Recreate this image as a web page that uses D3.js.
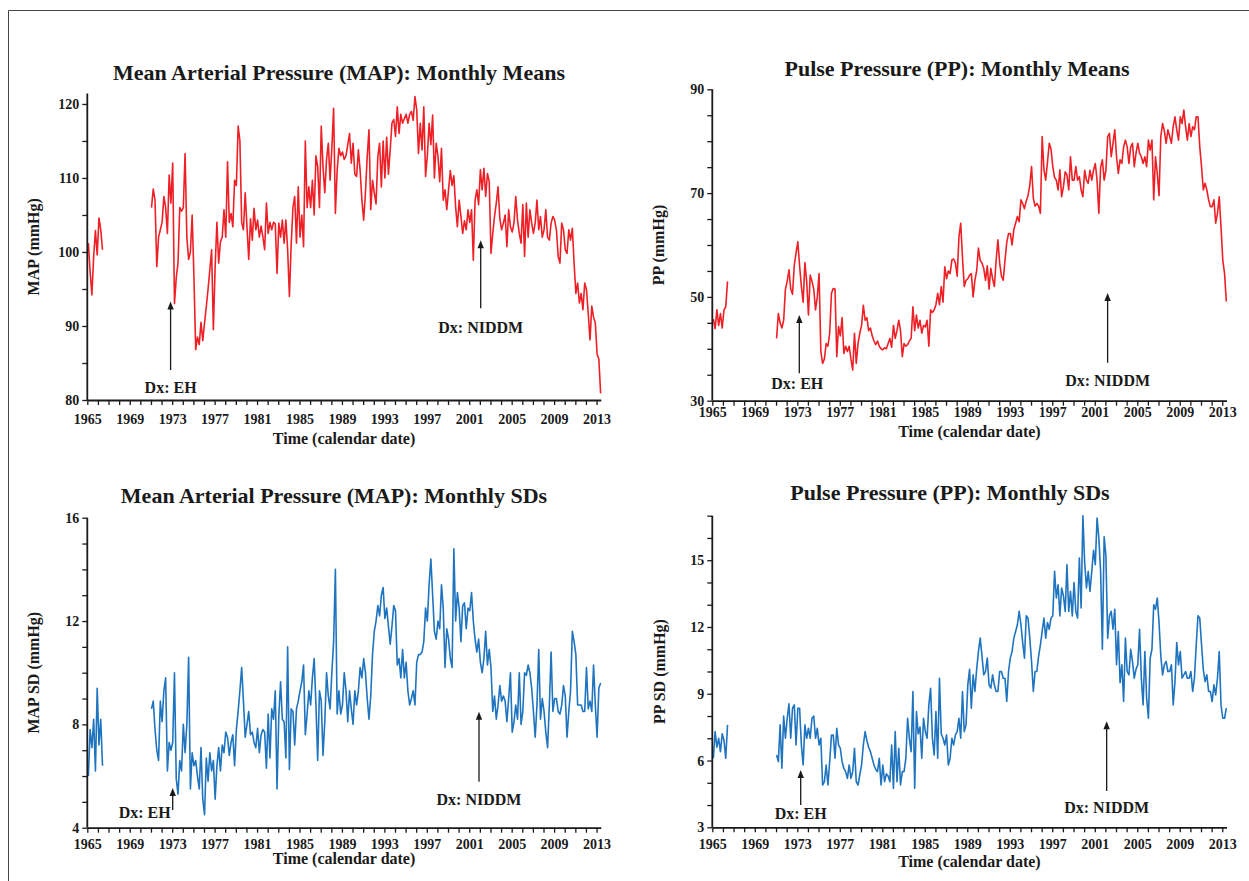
<!DOCTYPE html>
<html>
<head>
<meta charset="utf-8">
<script src="https://cdn.jsdelivr.net/npm/d3@7"></script>
<style>
  body { margin: 0; background: #fff; }
  svg text { font-family: "Liberation Serif", "Times New Roman", serif; font-weight: bold; fill: #1a1a1a; }
</style>
</head>
<body>
<svg id="chart" width="1249" height="881"></svg>
<script>
// ---- Time axis: years shown on every panel ----
const yearTicks = d3.range(1965, 2014, 1);
const yearLabels = [1965, 1969, 1973, 1977, 1981, 1985, 1989, 1993, 1997, 2001, 2005, 2009, 2013];

// Bimonthly series: early block starts 1965.1, main block starts 1971.05
const earlyStart = 1965.1;
const lateStart = 1971.05;
const step = 1 / 6;

// ---- MAP monthly means (mmHg) ----
const mapMeanEarly = [101.2, 97.3, 94.2, 99.4, 102.9, 99.6, 104.6, 103, 100.3];
const mapMeanLate = [
  106, 108.5, 107, 98, 102, 103,
  104, 107.5, 106, 102.5, 110.4, 106.6,
  112, 93, 96.5, 98.5, 106, 105.5,
  106, 113.3, 102, 99, 100, 105,
  96.7, 86.8, 88.5, 87.5, 90.5, 88,
  90.4, 92.6, 95, 97.6, 100.3, 89.5,
  98, 104, 98.5, 101.4, 102, 105.7,
  102, 112.2, 104, 105.2, 103.4, 109.7,
  109, 117, 115, 104, 103, 108,
  103.4, 99, 104.5, 101.6, 105.9, 103,
  104.3, 102, 103.5, 102, 100.3, 106.6,
  102.5, 104, 103, 104, 103.8, 97.1,
  103.9, 102, 104.3, 101.2, 104.3, 100.3,
  94, 101, 106, 107.5, 101.2, 108.8,
  102, 105, 100.7, 115, 106, 108.8,
  106, 109.7, 105, 113, 111.5, 106,
  117, 111.5, 108, 112.5, 114.7, 109.7,
  114, 119.4, 105.2, 111, 114, 113,
  113.5, 112.5, 113, 114.5, 116, 112,
  114.7, 110.5, 110.2, 113.8, 111, 107,
  104.3, 108, 112.9, 116.5, 105.7, 109.7,
  108, 106.5, 112.9, 114.7, 108.8, 115,
  110, 115.5, 110.5, 113.8, 117.4, 117.9,
  115.6, 119.6, 116, 118.6, 117.4, 118,
  118.6, 117.4, 118.6, 119, 117.8, 121,
  119.2, 113.3, 117.4, 113.8, 119.6, 110.2,
  113,
  117.4, 114.5, 118.5, 110, 114.7, 113,
  109.5, 114, 107, 108.4, 105.7, 108.4,
  111, 109, 110.3, 106.1, 103.4, 107,
  104.8, 102.5, 104.2, 103, 105.7, 104,
  105.7, 98.9, 107, 108.4, 106.4, 111.1,
  108.4, 111.3, 107.5, 110.6, 109.5, 99.8,
  102.5, 104.8, 106.6, 108.8, 104.5, 103,
  103.9, 105, 100.7, 105.7, 103.4, 102.7,
  103.9, 107.5, 104.3, 102.5, 101.2, 106.4,
  99.4, 106.6, 102, 105.7, 103.9, 102.5,
  103.9, 107, 103, 104.8, 102, 103,
  105.7, 102, 101.6, 103.9, 104.8, 104.3,
  103, 99.4, 98.5, 103.9, 103, 100.3,
  99.8, 103, 101.6, 103.2, 98.5, 94.4,
  95.8, 93.1, 94.4, 92.2, 95.8, 94.9,
  91.7, 88.1, 92.7, 91.2, 90.4, 86.2,
  85.5, 80.9
];

// ---- PP monthly means (mmHg) ----
const ppMeanEarly = [45.7, 43.9, 47.5, 44.5, 46.8, 44, 47.5, 48.1, 53];
const ppMeanLate = [
  42, 46.8, 45, 44, 45.5, 51.5,
  53, 55.2, 51.5, 50.5, 56.1, 58.5,
  60.6, 56, 52, 49, 56.6, 53,
  46.5, 54.2, 53, 51.5, 47.5, 50,
  54.5, 39.5, 37.2, 38, 41, 40.5,
  43, 50.7, 51.6, 51.5, 38.5, 44.3,
  42.5, 46, 39.1, 40.5, 39.5, 40.5,
  38, 35.9, 43, 37.2, 41, 43,
  44.5, 48.4, 45.5, 46, 43.5, 44,
  42.5, 41.5, 40.8, 41.5, 40.5, 40,
  39.8, 40.2, 40, 41, 42, 40.3,
  44.5, 42, 43.5, 45.5, 43.5, 38.5,
  41, 40.5, 40.8, 41.5, 42, 48.1,
  43.5, 46.5, 44, 45.5, 43, 44.5,
  44.2, 45.5, 40.5, 47.5, 47, 47.5,
  48.5, 50.7, 48.5, 52, 49, 55.8,
  53.5, 55, 54.5, 57.1, 57.3, 56.5,
  54, 61.6, 64.2, 57.5, 52, 53.2,
  53.5, 54.2, 54.5, 50, 53.2, 55,
  59.4, 57, 56.5, 55.5, 53.2, 56,
  51.5, 55.5, 53.5, 52, 57, 61,
  56.5, 54, 53.2, 57, 60.5, 62.2,
  62.2, 60, 63, 64.2, 65.5, 64.5,
  68.7, 68, 67, 68.5, 69.5, 71.5,
  75.1, 69, 67.5, 68, 67.5, 66.1,
  80.9, 74.5, 72.5, 76, 79.6, 78.5,
  75.1, 73, 72.5, 70.6, 74.5, 69.3,
  71.2, 74.1, 73.5, 70.6, 77, 72.5,
  72.5, 75.1, 72.5, 73.2, 70.6, 69.3,
  74.4, 72.5, 71.9, 74.4, 72.5, 74.4,
  75.7, 72.5, 66.1, 75, 76.4, 72.5,
  74.4, 80.9, 81.5, 77, 79.6, 82.2,
  77, 73.8, 76.4, 75.7, 78.9, 80.2,
  78.9, 75.7, 78.9, 79.6, 75.1, 77.7,
  79.6, 77.7, 77, 75.7, 77, 75.1,
  80.2, 78.3, 80.2, 68.7, 77, 73.8,
  69.5, 80.9, 83.4, 82, 79.6, 82.2,
  80.9, 79.6, 82.8, 84.7, 82.2, 80.2,
  84.7, 83.4, 86, 82.8, 80.2, 83.4,
  80.9, 82.8, 82.2, 84.7, 84.7, 78.9,
  75.1, 70.6, 71.9, 70.6, 68.7, 67.4,
  67.4, 68.7, 64.2, 66.1, 69.3, 63.5,
  57.1, 54.5, 49.1
];

// ---- MAP monthly SDs (mmHg) ----
const mapSdEarly = [6.0, 7.8, 7.1, 8.2, 6.2, 9.4, 7.2, 8.2, 6.4];
const mapSdLate = [
  8.6, 8.9, 7.8, 7.0, 6.6, 8.9,
  8.1, 9.3, 9.8, 6.2, 7.3, 7.0,
  7.3, 10.0, 5.9, 5.3, 6.6, 6.2,
  8.0, 6.9, 8.0, 10.6, 5.5, 6.9,
  6.4, 6.6, 6.0, 5.5, 7.1, 5.1,
  4.5, 6.7, 5.8, 6.9, 6.2, 6.6,
  5.1, 6.4, 7.1, 6.2, 7.2, 6.9,
  7.7, 7.5, 6.8, 7.3, 7.6, 6.4,
  7.8, 8.5, 9.3, 10.2, 8.9, 7.5,
  8.0, 8.5, 7.6, 7.7, 7.3, 7.1,
  7.85, 6.9, 7.6, 7.8, 7.7, 6.3,
  8.4, 6.7, 8.6, 8.2, 9.3, 5.5,
  8.3, 9.65, 8.2, 8.1, 6.7, 11.0,
  6.25, 8.6, 8.5, 7.2, 8.6, 8.9,
  9.3, 9.65, 10.3, 7.6, 8.4, 9.3,
  8.75, 9.8, 10.55, 8.75, 6.6, 9.3,
  8.9, 6.8, 8.1, 10.0, 9.1, 8.6,
  10.0, 11.2, 14.0, 8.4, 9.3, 8.4,
  8.75, 10.0, 9.3, 8.1, 9.3, 8.6,
  8.0, 9.3, 8.75, 9.3, 10.2, 9.8,
  10.55, 10.0, 9.0, 8.2, 9.1, 10.7,
  11.6, 12.0, 12.6, 12.2, 13.0, 13.3,
  12.1, 12.5, 11.8, 11.1, 11.8, 12.6,
  12.4, 10.3, 10.55, 9.8, 10.9, 9.8,
  10.4, 9.3, 8.75, 9.0, 9.3, 8.75,
  10.4, 10.7, 10.7, 10.8, 11.2, 12.5,
  12.0, 13.4, 14.4, 13.0, 11.6, 11.3,
  12.0, 11.7, 13.4, 12.5, 10.2, 11.7,
  11.3, 10.55, 10.2, 14.8, 12.0, 13.1,
  12.5, 11.2, 12.6, 12.7, 11.7, 12.5,
  12.4, 13.1, 12.0, 11.3, 10.8, 11.3,
  10.4, 10.0, 10.55, 11.6, 10.3, 10.9,
  10.2, 8.5, 9.1, 8.2, 8.75, 9.5,
  8.9, 9.1, 8.9, 8.1, 9.0, 10.0,
  7.7, 8.1, 8.75, 8.2, 10.0, 8.0,
  8.5, 10.0, 9.9, 10.3, 10.0, 9.4,
  8.5, 7.5, 8.75, 10.9, 8.2, 9.0,
  8.5, 7.7, 7.1, 8.75, 10.8, 8.5,
  9.0, 9.0, 8.5, 8.4, 8.75, 9.5,
  9.1, 7.5, 8.5, 9.3, 11.6, 11.2,
  10.7, 8.75, 8.75, 8.75, 8.5, 8.5,
  10.2, 8.6, 8.9, 8.5, 10.3, 8.75,
  7.5, 9.4, 9.6
];

// ---- PP monthly SDs (mmHg) ----
const ppSdEarly = [6.1, 7.3, 6.6, 7.0, 6.4, 7.2, 6.9, 6.1, 7.6];
const ppSdLate = [
  6.25, 5.95, 7.6, 5.65, 8.0, 7.0,
  7.9, 8.55, 7.0, 8.35, 8.5, 6.7,
  8.35, 8.35, 6.7, 5.8, 7.6, 7.0,
  7.45, 7.0, 7.9, 8.0, 7.0, 7.45,
  6.7, 7.0, 4.9, 5.05, 5.8, 4.9,
  5.95, 7.15, 7.15, 6.1, 7.45, 6.7,
  6.55, 5.95, 5.65, 5.5, 5.2, 5.8,
  5.2, 5.5, 6.55, 5.05, 4.9, 5.35,
  5.8, 6.7, 7.3, 6.9, 6.6, 6.4,
  6.1, 5.8, 5.6, 5.5, 6.1, 4.9,
  5.8, 5.05, 5.4, 5.3, 5.05, 6.7,
  4.75, 7.3, 5.05, 6.55, 4.9, 5.5,
  5.5, 6.1, 7.9, 7.0, 6.4, 9.1,
  4.75, 8.2, 7.2, 7.5, 6.1, 7.9,
  7.3, 7.0, 8.5, 9.25, 7.0, 6.25,
  8.2, 6.1, 9.7, 7.2, 7.0, 6.7,
  7.15, 5.8, 6.1, 7.0, 6.7, 7.15,
  7.3, 7.9, 7.0, 9.1, 7.3, 7.6,
  9.4, 10.1, 8.35, 9.85, 9.1, 10.1,
  10.9, 11.5, 10.7, 9.85, 10.0, 10.6,
  9.4, 9.25, 9.85, 9.4, 9.1, 9.1,
  10.0, 10.0, 9.7, 9.7, 8.65, 10.0,
  10.6, 10.9, 11.5, 11.8, 12.1, 12.7,
  12.1, 11.3, 10.6, 12.5, 12.4, 11.5,
  10.45, 9.1, 10.0, 10.0, 10.7, 11.2,
  11.8, 12.4, 11.5, 12.2, 11.9, 12.4,
  12.5, 14.5, 13.3, 13.9, 12.5, 13.75,
  13.4, 12.7, 14.8, 12.7, 13.6, 12.5,
  14.0, 12.7, 12.4, 15.1, 12.85, 17.0,
  14.9, 13.75, 14.5, 13.6, 14.5, 15.45,
  14.8, 16.9, 16.0, 14.5, 11.0, 16.05,
  15.2, 11.5, 12.5, 12.7, 11.9, 12.8,
  10.3, 11.8, 9.5, 10.3, 8.65, 11.5,
  10.0, 9.85, 11.0, 10.45, 9.7, 10.1,
  10.3, 11.9, 9.7, 8.5, 10.9, 8.8,
  7.9, 10.6, 11.0, 13.0, 12.8, 13.3,
  12.2, 10.7, 9.85, 10.3, 10.45, 10.0,
  10.0, 10.3, 8.5, 9.55, 11.3, 10.3,
  10.9, 9.7, 9.85, 10.0, 9.7, 9.7,
  10.0, 9.1, 9.7, 11.2, 12.5, 12.4,
  11.2, 10.1, 9.55, 9.85, 9.1, 9.1,
  8.65, 9.4, 8.95, 9.7, 10.9, 8.5,
  7.9, 7.9, 8.35
];

// ---- Value-axis ticks and labels ----
const mapMeanTicks = d3.range(80, 121, 5);
const mapMeanLabels = [80, 90, 100, 110, 120];
const ppMeanTicks = d3.range(30, 91, 5);
const ppMeanLabels = [30, 50, 70, 90];
const mapSdTicks = d3.range(4, 17, 1);
const mapSdLabels = [4, 8, 12, 16];
const ppSdTicks = d3.range(3, 18, 1);
const ppSdLabels = [3, 6, 9, 12, 15];

// ---- Diagnosis markers ----
const diagnosisNames = ["Dx: EH", "Dx: NIDDM"];

const RED = "#ee2026";
const BLUE = "#1f74c0";
const INK = "#1a1a1a";

// Panel layout (pixel frames) and annotation placement in data units
const panels = [
  {
    title: "Mean Arterial Pressure (MAP): Monthly Means", titleX: 339, titleY: 80,
    yTitle: "MAP (mmHg)", yTitleX: 33,
    early: mapMeanEarly, late: mapMeanLate, color: RED,
    yDomain: [80, 121.4], ticks: mapMeanTicks, labels: mapMeanLabels,
    left: 87.3, right: 600.8, top: 93.6, bottom: 400,
    xLabelY: 424, xTitleY: 444,
    notes: [
      { name: 0, year: 1972.85, tip: 93.3, tail: 84.05, text: 80.95, anchor: "middle", dx: 0 },
      { name: 1, year: 2002.08, tip: 101.6, tail: 92.4, text: 89.1, anchor: "middle", dx: 0 }
    ]
  },
  {
    title: "Pulse Pressure (PP): Monthly Means", titleX: 957, titleY: 76,
    yTitle: "PP (mmHg)", yTitleX: 658,
    early: ppMeanEarly, late: ppMeanLate, color: RED,
    yDomain: [30, 90], ticks: ppMeanTicks, labels: ppMeanLabels,
    left: 712.3, right: 1226.5, top: 89.3, bottom: 400.7,
    xLabelY: 417, xTitleY: 437,
    notes: [
      { name: 0, year: 1973.19, tip: 46.5, tail: 35.3, text: 32.25, anchor: "middle", dx: -2 },
      { name: 1, year: 2002.21, tip: 50.75, tail: 37.3, text: 32.8, anchor: "middle", dx: 0 }
    ]
  },
  {
    title: "Mean Arterial Pressure (MAP): Monthly SDs", titleX: 334, titleY: 503,
    yTitle: "MAP SD (mmHg)", yTitleX: 33,
    early: mapSdEarly, late: mapSdLate, color: BLUE,
    yDomain: [4, 16], ticks: mapSdTicks, labels: mapSdLabels,
    left: 87.3, right: 600.8, top: 517.7, bottom: 827.7,
    xLabelY: 849, xTitleY: 864,
    notes: [
      { name: 0, year: 1973.05, tip: 5.54, tail: 4.69, text: 4.36, anchor: "end", dx: -2 },
      { name: 1, year: 2001.92, tip: 8.49, tail: 5.78, text: 4.88, anchor: "middle", dx: 0 }
    ]
  },
  {
    title: "Pulse Pressure (PP): Monthly SDs", titleX: 950, titleY: 500,
    yTitle: "PP SD (mmHg)", yTitleX: 659,
    early: ppSdEarly, late: ppSdLate, color: BLUE,
    yDomain: [3, 17], ticks: ppSdTicks, labels: ppSdLabels,
    left: 712.3, right: 1226.5, top: 515.7, bottom: 827.3,
    xLabelY: 849, xTitleY: 867,
    notes: [
      { name: 0, year: 1973.32, tip: 5.57, tail: 4.0, text: 3.36, anchor: "middle", dx: 0 },
      { name: 1, year: 2002.12, tip: 7.77, tail: 4.63, text: 3.63, anchor: "middle", dx: 0 }
    ]
  }
];

const svg = d3.select("#chart");

// outer frame (top and left edges visible)
svg.append("path")
  .attr("d", "M8.5,881 V10.5 H1249")
  .attr("fill", "none")
  .attr("stroke", "#444")
  .attr("stroke-width", 1);

panels.forEach(p => {
  const x = d3.scaleLinear().domain([1965, 2013.4]).range([p.left, p.right]);
  const y = d3.scaleLinear().domain(p.yDomain).range([p.bottom, p.top]);
  const g = svg.append("g");

  // Bimonthly series as two separate segments
  const line = d3.line()
    .x(d => x(d.t))
    .y(d => y(d.v));
  const seg = (vals, start) => vals.map((v, i) => ({ t: start + i * step, v }));
  [seg(p.early, earlyStart), seg(p.late, lateStart)].forEach(s => {
    g.append("path")
      .datum(s)
      .attr("d", line)
      .attr("fill", "none")
      .attr("stroke", p.color)
      .attr("stroke-width", 1.6)
      .attr("stroke-linejoin", "round");
  });

  // x axis
  const xAxis = d3.axisBottom(x)
    .tickValues(yearTicks)
    .tickSize(5)
    .tickSizeOuter(0)
    .tickFormat(d => yearLabels.includes(d) ? d : "");
  const gx = g.append("g")
    .attr("transform", `translate(0,${p.bottom})`)
    .call(xAxis);
  gx.attr("font-family", null).attr("font-size", null);
  gx.select(".domain").attr("stroke", INK).attr("stroke-width", 1.8);
  gx.selectAll(".tick line").attr("stroke", INK).attr("stroke-width", 1.3);
  gx.selectAll(".tick text")
    .attr("y", null).attr("dy", null)
    .attr("transform", `translate(0,${p.xLabelY - p.bottom})`)
    .style("font-size", "14px");

  // y axis
  const yAxis = d3.axisLeft(y)
    .tickValues(p.ticks)
    .tickSize(5)
    .tickSizeOuter(0)
    .tickFormat(d => p.labels.includes(d) ? d : "");
  const gy = g.append("g")
    .attr("transform", `translate(${p.left},0)`)
    .call(yAxis);
  gy.attr("font-family", null).attr("font-size", null);
  gy.select(".domain").attr("stroke", INK).attr("stroke-width", 1.8)
    .attr("d", `M0,${p.bottom}V${p.top}`);
  gy.selectAll(".tick line").attr("stroke", INK).attr("stroke-width", 1.3);
  gy.selectAll(".tick text").attr("x", -8).style("font-size", "14px");

  // titles
  g.append("text")
    .attr("x", p.titleX).attr("y", p.titleY)
    .attr("text-anchor", "middle")
    .style("font-size", "22px")
    .text(p.title);
  g.append("text")
    .attr("x", (p.left + p.right) / 2).attr("y", p.xTitleY)
    .attr("text-anchor", "middle")
    .style("font-size", "16px")
    .text("Time (calendar date)");
  g.append("text")
    .attr("transform", `translate(${p.yTitleX},${(p.top + p.bottom) / 2}) rotate(-90)`)
    .attr("text-anchor", "middle")
    .attr("dy", "0.35em")
    .style("font-size", "16px")
    .text(p.yTitle);

  // diagnosis arrows
  p.notes.forEach(n => {
    const ax = x(n.year);
    const yTip = y(n.tip), yTail = y(n.tail);
    g.append("line")
      .attr("x1", ax).attr("x2", ax)
      .attr("y1", yTail).attr("y2", yTip + 7)
      .attr("stroke", INK).attr("stroke-width", 1.3);
    g.append("path")
      .attr("d", `M${ax},${yTip} L${ax - 3.2},${yTip + 8} L${ax + 3.2},${yTip + 8} Z`)
      .attr("fill", INK);
    g.append("text")
      .attr("x", ax + n.dx).attr("y", y(n.text))
      .attr("text-anchor", n.anchor)
      .style("font-size", "16px")
      .text(diagnosisNames[n.name]);
  });
});
</script>
</body>
</html>
